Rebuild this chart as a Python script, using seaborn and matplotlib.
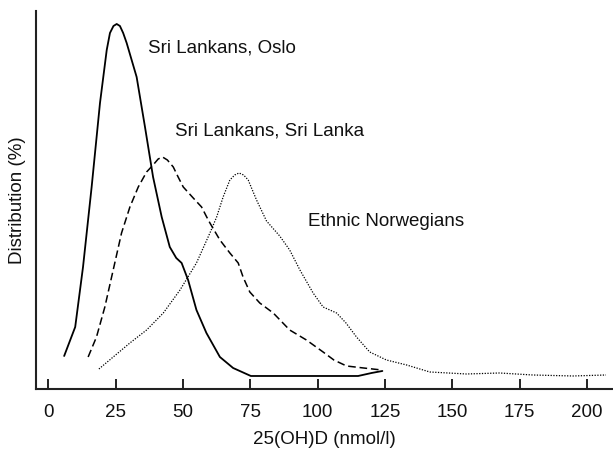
import matplotlib
matplotlib.use("Agg")
import matplotlib.pyplot as plt
import seaborn as sns
import pandas as pd

# Sri Lankans, Oslo
oslo_x = [5.9, 10.0, 12.9, 16.1, 19.2, 21.7, 22.9, 24.2, 25.4, 26.6, 27.8, 29.1, 32.8, 35.9,
          38.9, 42.1, 45.1, 47.5, 49.5, 51.9, 55.0, 58.7, 63.7, 68.6, 75.2, 115.0, 120.0, 124.0]
oslo_y = [0.20, 0.49, 1.09, 1.89, 2.73, 3.26, 3.43, 3.50, 3.52, 3.50, 3.43, 3.33, 2.99, 2.49,
          1.99, 1.59, 1.29, 1.18, 1.13, 0.96, 0.66, 0.43, 0.19, 0.08, 0.00, 0.00, 0.03, 0.05]

# Sri Lankans, Sri Lanka
sl_x = [14.8, 17.9, 21.0, 24.1, 27.2, 30.3, 33.4, 36.5, 38.9, 40.8, 42.4, 44.2, 46.4, 48.2,
        50.1, 53.8, 56.9, 58.8, 60.0, 63.7, 67.4, 70.5, 72.3, 74.8, 78.5, 83.5, 89.6, 95.8,
        102.0, 106.0, 110.7, 117.0, 123.7]
sl_y = [0.19, 0.39, 0.69, 1.06, 1.43, 1.69, 1.89, 2.04, 2.11, 2.17, 2.19, 2.16, 2.09, 1.99,
        1.89, 1.78, 1.69, 1.59, 1.53, 1.36, 1.23, 1.13, 0.99, 0.84, 0.73, 0.63, 0.46, 0.36,
        0.24, 0.16, 0.10, 0.08, 0.06]

# Ethnic Norwegians
no_x = [18.8, 24.1, 30.3, 36.5, 42.7, 48.9, 55.0, 60.0, 62.5, 64.9, 67.4, 69.2, 70.8, 72.5,
        74.2, 77.3, 81.0, 85.9, 89.6, 93.4, 98.3, 102.0, 107.0, 110.5, 114.4, 119.3, 125.5,
        133.0, 141.6, 155.2, 167.5, 179.8, 194.7, 207.0]
no_y = [0.07, 0.19, 0.33, 0.46, 0.63, 0.86, 1.13, 1.43, 1.59, 1.79, 1.96, 2.01, 2.03, 2.01,
        1.96, 1.76, 1.55, 1.40, 1.26, 1.06, 0.83, 0.69, 0.63, 0.53, 0.39, 0.24, 0.16,
        0.11, 0.04, 0.02, 0.03, 0.01, 0.00, 0.01]

groups = ["Sri Lankans, Oslo", "Sri Lankans, Sri Lanka", "Ethnic Norwegians"]
xticks = [0, 25, 50, 75, 100, 125, 150, 175, 200]

df = pd.concat([
    pd.DataFrame({"x": oslo_x, "y": oslo_y, "group": groups[0]}),
    pd.DataFrame({"x": sl_x, "y": sl_y, "group": groups[1]}),
    pd.DataFrame({"x": no_x, "y": no_y, "group": groups[2]}),
])

sns.set_style("ticks")
plt.rcParams["font.family"] = ["Liberation Sans", "DejaVu Sans"]

fig = plt.figure(figsize=(6.13, 4.54), dpi=100)
ax = fig.add_axes([0.0582, 0.1432, 0.9418, 0.8326])

styles = {groups[0]: dict(ls="-", lw=1.3),
          groups[1]: dict(ls=(0, (5, 2.5)), lw=1.1),
          groups[2]: dict(ls=(0, (1, 1.2)), lw=0.9)}
for g in groups:
    sub = df[df["group"] == g]
    sns.lineplot(data=sub, x="x", y="y", ax=ax, color="black", sort=False,
                 estimator=None, linestyle=styles[g]["ls"], linewidth=styles[g]["lw"])

ax.set_xlim(-4.67, 209.6)
ax.set_ylim(-0.13, 3.65)
ax.set_xticks(xticks)
ax.set_xticklabels([str(t) for t in xticks])
ax.set_yticks([])
ax.tick_params(axis="x", direction="in", length=7, width=1.3, labelsize=13.5, pad=11, colors="#111111")
for s in ["top", "right"]:
    ax.spines[s].set_visible(False)
for s in ["left", "bottom"]:
    ax.spines[s].set_linewidth(1.5)
    ax.spines[s].set_color("#222222")

ax.set_xlabel("25(OH)D (nmol/l)", fontsize=13.5, labelpad=7, color="#111111")
ax.set_ylabel("Distribution (%)", fontsize=13.5, labelpad=7, color="#111111")

ax.text(37.0, 3.28, groups[0], fontsize=13.5, va="center", ha="left", color="#111111")
ax.text(47.0, 2.45, groups[1], fontsize=13.5, va="center", ha="left", color="#111111")
ax.text(96.3, 1.54, groups[2], fontsize=13.5, va="center", ha="left", color="#111111")

fig.savefig("out.png", dpi=100)
